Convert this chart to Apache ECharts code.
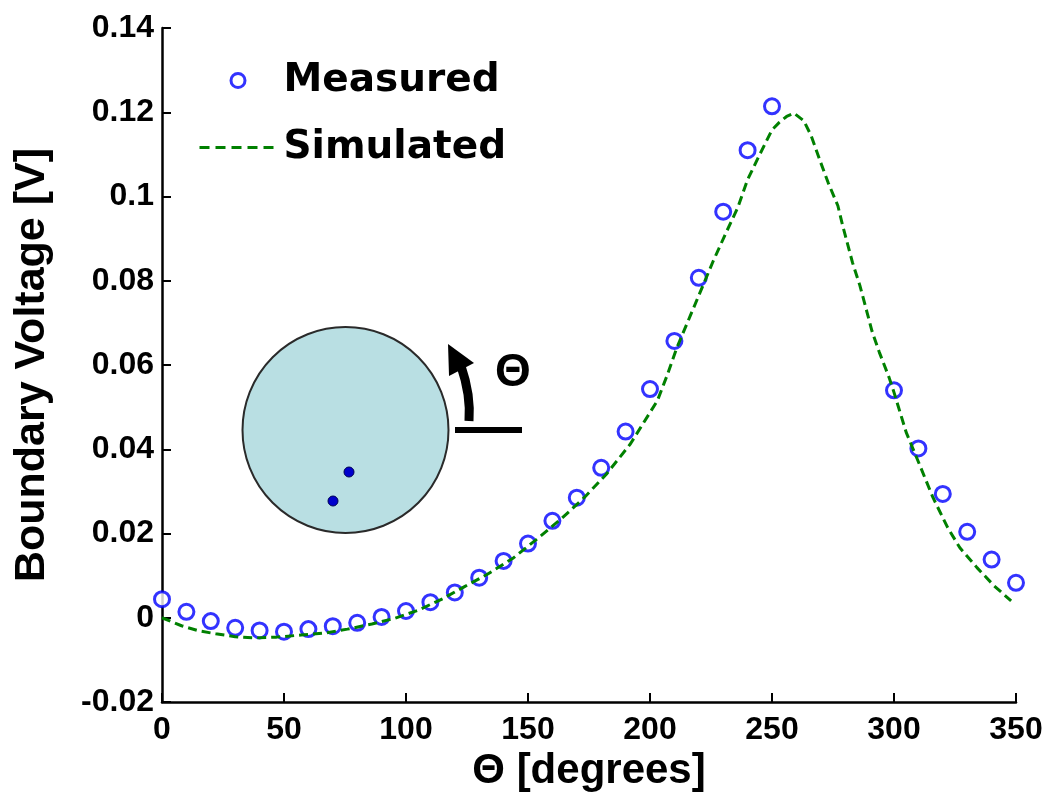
<!DOCTYPE html>
<html>
<head>
<meta charset="utf-8">
<script src="https://cdn.jsdelivr.net/npm/echarts@6/dist/echarts.min.js"></script>
<style>
  html, body { margin: 0; padding: 0; background: #fff; }
  #chart { width: 1053px; height: 801px; }
</style>
</head>
<body>
<div id="chart"></div>
<script>
// Measured boundary voltage, every 10 degrees (no readings 260-290)
const measuredDeg = [0, 10, 20, 30, 40, 50, 60, 70, 80, 90, 100, 110, 120, 130, 140, 150, 160, 170, 180, 190, 200, 210, 220, 230, 240, 250, 300, 310, 320, 330, 340, 350];
const measuredVolt = [0.0044, 0.0014, -0.0008, -0.0024, -0.0030, -0.0033, -0.0027, -0.0020, -0.0012, 0.0002, 0.0016, 0.0037, 0.0060, 0.0095, 0.0135, 0.0176, 0.0230, 0.0285, 0.0356, 0.0442, 0.0543, 0.0657, 0.0807, 0.0964, 0.1110, 0.1214, 0.0540, 0.0402, 0.0294, 0.0204, 0.0138, 0.0083];

// Simulated boundary voltage
const simDeg = [0, 8, 15, 22, 30, 38, 47, 57, 67, 76, 86, 95, 105, 115, 124, 133, 144, 155, 164, 173, 182, 192, 203, 207, 211, 220, 226, 231, 236, 240, 245, 250, 253, 256, 259, 263, 266, 270, 273, 277, 279, 283, 286, 289, 291, 294, 298, 300, 305, 311, 316, 322, 327, 334, 341, 348];
const simVolt = [0.0000, -0.0019, -0.0031, -0.0038, -0.0045, -0.0048, -0.0046, -0.0041, -0.0036, -0.0027, -0.0015, -0.0002, 0.0018, 0.0045, 0.0074, 0.0102, 0.0142, 0.0193, 0.0237, 0.0285, 0.0340, 0.0413, 0.0515, 0.0575, 0.0641, 0.0765, 0.0848, 0.0912, 0.0974, 0.1040, 0.1100, 0.1158, 0.1176, 0.1190, 0.1198, 0.1180, 0.1145, 0.1080, 0.1033, 0.0978, 0.0930, 0.0843, 0.0789, 0.0724, 0.0680, 0.0630, 0.0570, 0.0535, 0.0440, 0.0356, 0.0285, 0.0214, 0.0166, 0.0119, 0.0076, 0.0040];

// Axis tick labels
const xTickLabels = ['0', '50', '100', '150', '200', '250', '300', '350'];
const yTickLabels = ['-0.02', '0', '0.02', '0.04', '0.06', '0.08', '0.1', '0.12', '0.14'];

const FONT = "'Liberation Sans', Arial, sans-serif";
const BLUE = '#0000ff';
const GREEN = '#008000';

const chart = echarts.init(document.getElementById('chart'), null, { renderer: 'canvas' });

const pair = (xs, ys) => xs.map((x, i) => [x, ys[i]]);

// open ring marker: white fill, heavy blue outline
const ringStyle = { color: '#ffffff', borderColor: BLUE, borderWidth: 3 };

chart.setOption({
  backgroundColor: '#ffffff',
  animation: false,
  grid: { left: 162, right: 37, top: 28, bottom: 99, containLabel: false },
  legend: {
    orient: 'vertical',
    left: 193,
    top: 53,
    itemWidth: 77,
    itemHeight: 14,
    itemGap: 22,
    textStyle: {
      fontFamily: "'DejaVu Sans', sans-serif",
      fontWeight: 'bold',
      fontSize: 39,
      lineHeight: 45,
      color: '#000',
      padding: [0, 0, 0, 2]
    },
    data: [
      { name: 'Measured', icon: 'circle', itemStyle: ringStyle },
      // dashed line only, no marker in the key
      { name: 'Simulated', itemStyle: { opacity: 0 }, lineStyle: { color: GREEN, width: 3, type: [10, 6] } }
    ]
  },
  xAxis: {
    type: 'value',
    min: 0,
    max: 350,
    interval: 50,
    name: 'Θ [degrees]',
    nameLocation: 'middle',
    nameGap: 47,
    nameTextStyle: { fontFamily: FONT, fontWeight: 'bold', fontSize: 42, color: '#000' },
    axisLine: { show: true, onZero: false, lineStyle: { color: '#000', width: 2.5 } },
    axisTick: { show: true, inside: true, length: 9, lineStyle: { color: '#000', width: 2 } },
    axisLabel: {
      margin: 12,
      fontFamily: FONT, fontWeight: 'bold', fontSize: 32, color: '#000',
      formatter: (v, i) => xTickLabels[i]
    },
    splitLine: { show: false }
  },
  yAxis: {
    type: 'value',
    min: -0.02,
    max: 0.14,
    interval: 0.02,
    name: 'Boundary Voltage [V]',
    nameLocation: 'middle',
    nameGap: 108,
    nameRotate: 90,
    nameTextStyle: { fontFamily: FONT, fontWeight: 'bold', fontSize: 43, color: '#000' },
    axisLine: { show: true, onZero: false, lineStyle: { color: '#000', width: 2.5 } },
    axisTick: { show: true, inside: true, length: 9, lineStyle: { color: '#000', width: 2 } },
    axisLabel: {
      margin: 8,
      fontFamily: FONT, fontWeight: 'bold', fontSize: 32, color: '#000',
      formatter: (v, i) => yTickLabels[i]
    },
    splitLine: { show: false }
  },
  series: [
    {
      name: 'Measured',
      type: 'scatter',
      symbol: 'circle',
      symbolSize: 15,
      clip: false,
      z: 2,
      itemStyle: ringStyle,
      data: pair(measuredDeg, measuredVolt)
    },
    {
      name: 'Simulated',
      type: 'line',
      symbol: 'none',
      showSymbol: false,
      smooth: false,
      clip: false,
      z: 3,
      lineStyle: { color: GREEN, width: 3, type: [9, 5] },
      itemStyle: { color: GREEN },
      data: pair(simDeg, simVolt)
    }
  ],
  graphic: [
    // disc with the two source points
    { type: 'circle', shape: { cx: 345.5, cy: 430, r: 103 }, style: { fill: '#b9dfe3', stroke: '#2a2a2a', lineWidth: 2 }, z: 1 },
    { type: 'circle', shape: { cx: 349, cy: 472, r: 5 }, style: { fill: '#0000cc', stroke: '#000055', lineWidth: 1 }, z: 1 },
    { type: 'circle', shape: { cx: 333, cy: 501, r: 5 }, style: { fill: '#0000cc', stroke: '#000055', lineWidth: 1 }, z: 1 },
    // reference direction and rotation arrow
    { type: 'line', shape: { x1: 455, y1: 430, x2: 522, y2: 430 }, style: { stroke: '#000', lineWidth: 6 }, z: 1 },
    { type: 'bezierCurve', shape: { x1: 469, y1: 421, cpx1: 471, cpy1: 395, x2: 461, y2: 366 }, style: { stroke: '#000', lineWidth: 9, fill: null }, z: 1 },
    { type: 'polygon', shape: { points: [[448, 344], [449, 376], [474, 363]] }, style: { fill: '#000' }, z: 1 },
    { type: 'text', x: 513, y: 373, style: { text: 'Θ', font: "bold 46px 'Liberation Sans', Arial, sans-serif", fill: '#000', align: 'center', verticalAlign: 'middle' }, z: 1 }
  ]
});
</script>
</body>
</html>
